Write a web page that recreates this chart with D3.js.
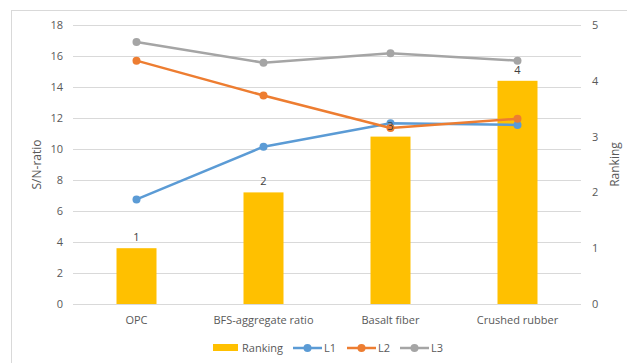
<!DOCTYPE html>
<html>
<head>
<meta charset="utf-8">
<script src="https://cdn.jsdelivr.net/npm/d3@7"></script>
<style>
  body { margin: 0; background: #fff; }
  text { font-family: "Open Sans", "Liberation Sans", sans-serif; }
</style>
</head>
<body>
<svg id="chart" width="627" height="363"></svg>
<script>
// data
const categories = ["OPC", "BFS-aggregate ratio", "Basalt fiber", "Crushed rubber"]
const ranking = [1, 2, 3, 4]
const L1 = [6.75, 10.15, 11.66, 11.55]
const L2 = [15.7, 13.45, 11.35, 11.95]
const L3 = [16.9, 15.57, 16.17, 15.7]
const leftTicks = [0, 2, 4, 6, 8, 10, 12, 14, 16, 18]
const rightTicks = [0, 1, 2, 3, 4, 5]

const series = [
    {name: "L1", values: L1, color: "#5B9BD5"},
    {name: "L2", values: L2, color: "#ED7D31"},
    {name: "L3", values: L3, color: "#A5A5A5"}
]

const svg = d3.select("#chart")
const m = {left: 73, right: 581, top: 25, bottom: 304}

// chart border (runs off the right and bottom edges)
svg.append("rect")
    .attr("x", 11.5).attr("y", 10.5)
    .attr("width", 640).attr("height", 400)
    .attr("fill", "none").attr("stroke", "#d9d9d9")

const x = d3.scaleBand().domain(categories).range([m.left, m.right])
const yL = d3.scaleLinear().domain([0, 18]).range([m.bottom, m.top])
const yR = d3.scaleLinear().domain([0, 5]).range([m.bottom, m.top])

// gridlines
svg.append("g").selectAll("line")
    .data(leftTicks)
    .join("line")
    .attr("x1", m.left).attr("x2", m.right)
    .attr("y1", d => Math.round(yL(d)) + 0.5)
    .attr("y2", d => Math.round(yL(d)) + 0.5)
    .attr("stroke", "#d9d9d9")

// left axis labels
svg.append("g").selectAll("text")
    .data(leftTicks)
    .join("text")
    .attr("x", 63).attr("y", d => yL(d) + 4)
    .attr("text-anchor", "end")
    .attr("font-size", 11).attr("fill", "#595959")
    .text(d => d)

// right axis labels
svg.append("g").selectAll("text")
    .data(rightTicks)
    .join("text")
    .attr("x", 592).attr("y", d => yR(d) + 4)
    .attr("font-size", 11).attr("fill", "#595959")
    .text(d => d)

// axis titles
svg.append("text")
    .attr("transform", `translate(41,${(m.top + m.bottom) / 2}) rotate(-90)`)
    .attr("text-anchor", "middle")
    .attr("font-size", 12).attr("fill", "#595959")
    .text("S/N-ratio")
svg.append("text")
    .attr("transform", `translate(619,${(m.top + m.bottom) / 2}) rotate(-90)`)
    .attr("text-anchor", "middle")
    .attr("font-size", 12).attr("fill", "#595959")
    .text("Ranking")

// category labels
svg.append("g").selectAll("text")
    .data(categories)
    .join("text")
    .attr("x", d => x(d) + x.bandwidth() / 2).attr("y", 324)
    .attr("text-anchor", "middle")
    .attr("font-size", 11).attr("fill", "#595959")
    .text(d => d)

// bars
const barW = 40
svg.append("g").selectAll("rect")
    .data(ranking)
    .join("rect")
    .attr("x", (d, i) => x(categories[i]) + x.bandwidth() / 2 - barW / 2)
    .attr("y", d => yR(d))
    .attr("width", barW)
    .attr("height", d => yR(0) - yR(d))
    .attr("fill", "#FFC000")

// lines
const line = d3.line()
    .x((d, i) => x(categories[i]) + x.bandwidth() / 2)
    .y(d => yL(d))
series.forEach(s => {
    const g = svg.append("g")
    g.append("path")
        .attr("d", line(s.values))
        .attr("fill", "none")
        .attr("stroke", s.color)
        .attr("stroke-width", 2.5)
        .attr("stroke-linejoin", "round")
    g.selectAll("circle")
        .data(s.values)
        .join("circle")
        .attr("cx", (d, i) => x(categories[i]) + x.bandwidth() / 2)
        .attr("cy", d => yL(d))
        .attr("r", 4)
        .attr("fill", s.color)
})

// bar data labels
svg.append("g").selectAll("text")
    .data(ranking)
    .join("text")
    .attr("x", (d, i) => x(categories[i]) + x.bandwidth() / 2)
    .attr("y", d => yR(d) - 7)
    .attr("text-anchor", "middle")
    .attr("font-size", 11).attr("fill", "#404040")
    .text(d => d)

// legend
const lg = svg.append("g").attr("font-size", 11).attr("fill", "#595959")
lg.append("rect").attr("x", 213).attr("y", 344).attr("width", 25).attr("height", 7).attr("fill", "#FFC000")
lg.append("text").attr("x", 242).attr("y", 352).text("Ranking")
const lx = [293, 347, 400]
series.forEach((s, i) => {
    lg.append("line")
        .attr("x1", lx[i]).attr("x2", lx[i] + 29)
        .attr("y1", 348).attr("y2", 348)
        .attr("stroke", s.color).attr("stroke-width", 2.5)
    lg.append("circle").attr("cx", lx[i] + 14.5).attr("cy", 348).attr("r", 4).attr("fill", s.color)
    lg.append("text").attr("x", lx[i] + 31).attr("y", 352).text(s.name)
})
</script>
</body>
</html>
